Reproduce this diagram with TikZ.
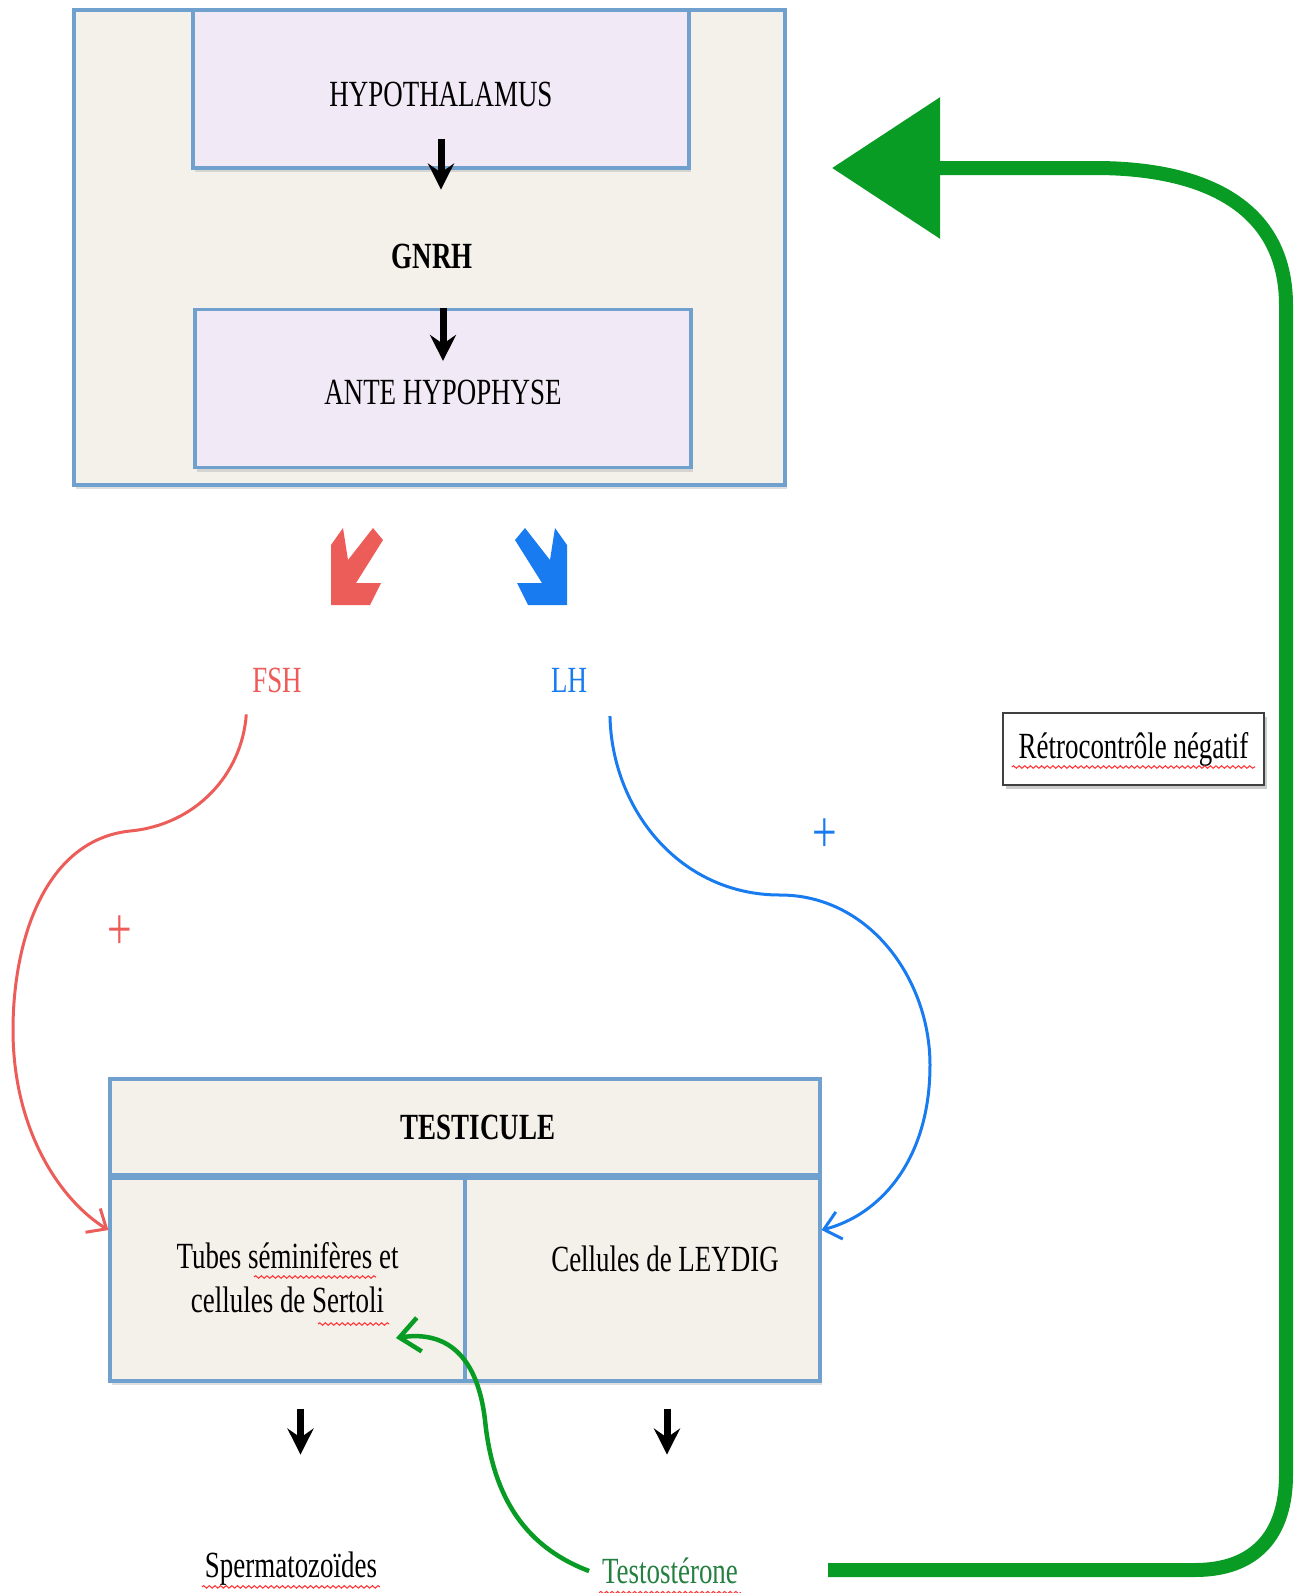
\documentclass[tikz,border=0pt]{standalone}
\usepackage{fontspec}
\setmainfont{Liberation Serif}[FakeStretch=0.73]
\usetikzlibrary{arrows.meta,shadows,decorations.pathmorphing}

\newcommand{\varbw}{4.96}
\newcommand{\varbh}{1.58}
\newcommand{\varcw}{3.55}
\newcommand{\varch}{2.06}
\definecolor{mybeige}{RGB}{244,241,235}
\definecolor{mylilac}{RGB}{242,233,246}
\definecolor{myframe}{RGB}{112,160,206}
\definecolor{myred}{RGB}{236,92,88}
\definecolor{myblue}{RGB}{24,124,240}
\definecolor{mygreen}{RGB}{8,156,36}
\definecolor{mytgreen}{RGB}{36,128,64}

\begin{document}
\fontsize{10.5}{12.5}\selectfont
\begin{tikzpicture}[
	box/.style={draw=myframe, line width=0.9pt, fill=mybeige, inner sep=2pt,
		drop shadow={shadow xshift=0.02cm, shadow yshift=-0.04cm, opacity=0.25}},
	lbox/.style={box, fill=mylilac, minimum width=\varbw cm, minimum height=\varbh cm},
	cell/.style={box, minimum width=\varcw cm, minimum height=\varch cm, align=center},
	blk/.style={line width=0.07cm, -{Stealth[length=0.26cm, width=0.26cm, inset=0.09cm]}},
	fshline/.style={myred, line width=0.03cm, -{Straight Barb[length=0.16cm, width=0.28cm]}},
	lhline/.style={myblue, line width=0.03cm, -{Straight Barb[length=0.16cm, width=0.28cm]}},
	testoline/.style={mygreen, line width=0.045cm, -{Straight Barb[length=0.2cm, width=0.34cm]}},
	feedback/.style={mygreen, line width=0.14cm, -{Triangle[length=1.08cm, width=1.38cm]}},
	plus/.style={font=\fontsize{17}{19}\selectfont},
	wavy/.style={red!80, line width=0.3pt, decorate, decoration={snake, amplitude=0.35pt, segment length=1.6pt}}
]

	\useasboundingbox (0,0) rectangle (13,-15.93);

	% axis
	\node[box, minimum width=7.11cm, minimum height=4.75cm] (axe) at (4.295,-2.475) {};
	\node[lbox] (hyp) at (4.41,-0.89) {\raisebox{-0.05cm}[\height][\depth]{HYPOTHALAMUS}};
	\node[lbox] (ante) at (4.43,-3.885) {\raisebox{-0.035cm}[\height][\depth]{ANTE HYPOPHYSE}};
	\node[font=\bfseries] (gnrh) at (4.32,-2.56) {GNRH};
	\draw[blk] (hyp.south) ++(0,0.31) -- ++(0,-0.51);
	\draw[blk] (ante.north) -- ++(0,-0.53);

	% fat arrows
	\fill[myred] (3.31,-6.05) -- (3.70,-6.05) -- (3.81,-5.83) -- (3.56,-5.83) -- (3.83,-5.40)
		-- (3.73,-5.28) -- (3.48,-5.60) -- (3.43,-5.28) -- (3.31,-5.45) -- cycle;
	\fill[myblue] (5.67,-6.05) -- (5.28,-6.05) -- (5.17,-5.83) -- (5.42,-5.83) -- (5.15,-5.40)
		-- (5.25,-5.28) -- (5.50,-5.60) -- (5.55,-5.28) -- (5.67,-5.45) -- cycle;

	\node[text=myred] (fsh) at (2.77,-6.80) {FSH};
	\node[text=myblue] (lh) at (5.69,-6.80) {LH};
	\node[plus, text=myred] (plusfsh) at (1.20,-9.33) {+};
	\node[plus, text=myblue] (pluslh) at (8.25,-8.36) {+};

	% testicule
	\node[box, minimum width=7.10cm, minimum height=0.96cm, font=\bfseries] (testi) at (4.65,-11.27) {\hspace*{0.26cm}TESTICULE};
	\node[cell] (tubes) at (2.875,-12.78) {Tubes séminifères et\\cellules de Sertoli};
	\node[cell] (leycell) at (6.425,-12.78) {};
	\node (leydig) at (6.65,-12.59) {Cellules de LEYDIG};
	\draw[myframe, line width=1.8pt] (testi.south west) -- (testi.south east);

	% stimulation
	\draw[fshline] ([shift={(0.07,-0.09)}]fsh.south west) .. controls (2.42,-7.75) and (1.95,-8.25) .. (1.30,-8.31)
		.. controls (0.45,-8.40) and (0.13,-9.40) .. (0.13,-10.30)
		.. controls (0.13,-11.30) and (0.60,-12.00) .. (tubes.165);
	\draw[lhline] ([shift={(0.1,-0.11)}]lh.south east) .. controls (6.12,-8.10) and (6.80,-8.95) .. (7.80,-8.95)
		.. controls (8.70,-8.95) and (9.30,-9.80) .. (9.30,-10.65)
		.. controls (9.30,-11.60) and (8.80,-12.15) .. (leycell.15);

	% products
	\draw[blk] (tubes.south) ++(0.13,-0.26) -- ++(0,-0.46);
	\draw[blk] (leycell.south) ++(0.245,-0.26) -- ++(0,-0.46);
	\node (sperm) at (2.91,-15.69) {Spermatozoïdes};
	\node[text=mytgreen] (testo) at (6.70,-15.71) {Testostérone};

	% retrocontrole
	\node[draw=black!75, line width=0.7pt, fill=white, minimum width=2.61cm, minimum height=0.72cm,
		drop shadow={shadow xshift=0.03cm, shadow yshift=-0.04cm, opacity=0.4}] (retro) at (11.335,-7.49) {Rétrocontrôle négatif};

	\coordinate (sertin) at (3.96,-13.38);
	\coordinate (fbstart) at (8.28,-15.70);
	\coordinate (fbtip) at (8.32,-1.68);
	\draw[testoline] (testo.west) .. controls (5.20,-15.45) and (4.92,-14.90) .. (4.85,-14.20)
		.. controls (4.78,-13.60) and (4.50,-13.30) .. (sertin);
	\draw[feedback] (fbstart) -- (11.95,-15.70) .. controls (12.55,-15.70) and (12.86,-15.35) .. (12.86,-14.75)
		-- (12.86,-3.05) .. controls (12.86,-2.10) and (12.10,-1.68) .. (10.95,-1.68) -- (fbtip);

	% spelling marks
	\draw[wavy] ([shift={(0.1,-0.09)}]sperm.base west) -- ([shift={(-0.1,-0.09)}]sperm.base east);
	\draw[wavy] ([shift={(0.1,-0.09)}]testo.base west) -- ([shift={(-0.1,-0.09)}]testo.base east);
	\draw[wavy] ([shift={(0.1,-0.09)}]retro.base west) -- ([shift={(-0.1,-0.09)}]retro.base east);
	\draw[wavy] (2.54,-12.77) -- (3.76,-12.77);
	\draw[wavy] (3.18,-13.24) -- (3.89,-13.24);

\end{tikzpicture}
\end{document}
